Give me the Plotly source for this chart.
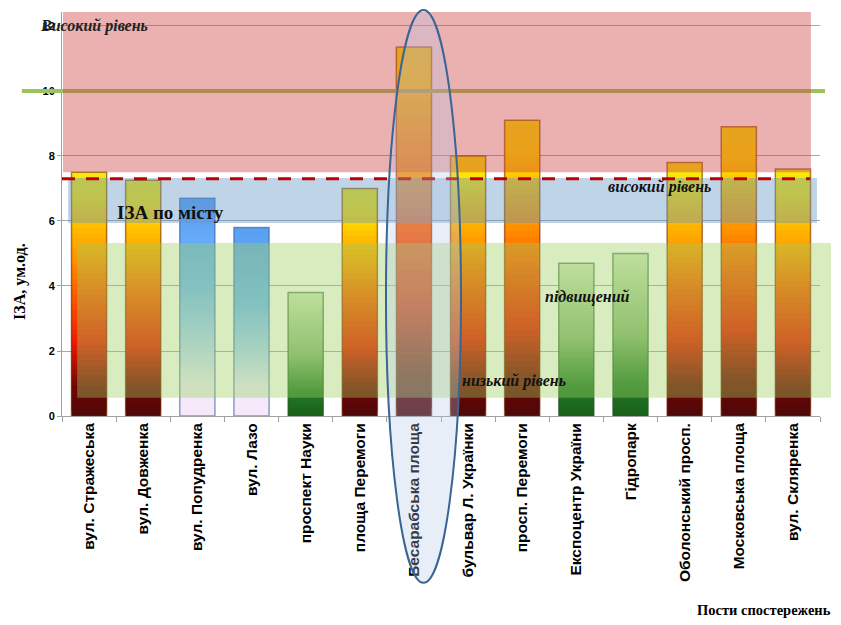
import plotly.graph_objects as go

# ---- data ----
categories = ["вул. Стражеська", "вул. Довженка", "вул. Попудренка", "вул. Лазо",
              "проспект Науки", "площа Перемоги", "Бесарабська площа",
              "бульвар Л. Українки", "просп. Перемоги", "Експоцентр України",
              "Гідропарк", "Оболонський просп.", "Московська площа", "вул. Скляренка"]
values = [7.5, 7.25, 6.7, 5.8, 3.8, 7.0, 11.35, 8.0, 9.1, 4.7, 5.0, 7.8, 8.9, 7.6]
bar_style = ["fire", "fire", "blue", "blue", "green", "fire", "fire",
             "fire", "fire", "green", "green", "fire", "fire", "fire"]
y_ticks = [0, 2, 4, 6, 8, 10, 12]
city_level = 7.3        # ІЗА по місту
high_level = 10         # високий рівень
band_high = (7.5, 12.43)
band_city = (5.94, 7.32)
band_mid = (0.56, 5.32)

# ---- gradients (fraction of bar height -> colour) ----
GRAD = {
    "fire": [(0.0, (0x4d, 0x08, 0x08)), (0.12, (0x70, 0x04, 0x04)), (0.3, (0xf0, 0x18, 0x00)),
             (0.53, (0xff, 0x66, 0x00)), (0.67, (0xff, 0x9b, 0x00)), (0.76, (0xff, 0xb8, 0x00)),
             (0.9, (0xff, 0xe4, 0x00)), (1.0, (0xf4, 0xe8, 0x10))],
    "blue": [(0.0, (0xf8, 0xe8, 0xf8)), (0.15, (0xf0, 0xec, 0xff)), (0.35, (0xb0, 0xd4, 0xff)),
             (0.6, (0x70, 0xb8, 0xff)), (1.0, (0x5a, 0x9e, 0xf0))],
    "green": [(0.0, (0x1a, 0x60, 0x1a)), (0.2, (0x22, 0x7a, 0x28)), (0.5, (0x88, 0xb8, 0x78)),
              (1.0, (0xd4, 0xea, 0xc4))],
}
EDGE = {"fire": "rgba(110,40,0,0.55)", "blue": "rgba(60,100,160,0.6)", "green": "rgba(40,90,40,0.6)"}


def grad_color(kind, f):
    stops = GRAD[kind]
    for (f0, c0), (f1, c1) in zip(stops[:-1], stops[1:]):
        if f0 <= f <= f1:
            t = (f - f0) / (f1 - f0) if f1 > f0 else 0
            c = [round(a + (b - a) * t) for a, b in zip(c0, c1)]
            return "rgb(%d,%d,%d)" % tuple(c)
    return "rgb(%d,%d,%d)" % stops[-1][1]


N = 48
BW = 0.65
fig = go.Figure()
for i in range(N):
    f = (i + 0.5) / N
    bases = [v * i / N for v in values]
    tops = [min(v * (i + 2.0) / N, v) for v in values]
    fig.add_trace(go.Bar(
        x=categories,
        y=[t - b for t, b in zip(tops, bases)],
        base=bases,
        marker=dict(color=[grad_color(s, f) for s in bar_style], line=dict(width=0)),
        width=BW, hoverinfo="skip", showlegend=False))
# outline
fig.add_trace(go.Bar(
    x=categories, y=values, width=BW,
    marker=dict(color="rgba(0,0,0,0)", line=dict(color=[EDGE[s] for s in bar_style], width=1.5)),
    hoverinfo="skip", showlegend=False))

serif = "Liberation Serif"
shapes = [
    # green line at high level (under band)
    dict(type="line", xref="paper", yref="y", x0=-0.053, x1=1.0066, y0=high_level, y1=high_level,
         line=dict(color="#9cc45e", width=4), layer="above"),
    dict(type="rect", xref="paper", yref="y", x0=0.0013, x1=0.988, y0=band_high[0], y1=band_high[1],
         fillcolor="rgba(205,60,60,0.4)", line=dict(width=0), layer="above"),
    dict(type="rect", xref="paper", yref="y", x0=0.008, x1=0.996, y0=band_city[0], y1=band_city[1],
         fillcolor="rgba(98,148,198,0.4)", line=dict(width=0), layer="above"),
    dict(type="rect", xref="paper", yref="y", x0=0.02, x1=1.0145, y0=band_mid[0], y1=band_mid[1],
         fillcolor="rgba(157,207,97,0.4)", line=dict(width=0), layer="above"),
    dict(type="line", xref="paper", yref="y", x0=0.0, x1=0.987, y0=city_level, y1=city_level,
         line=dict(color="#c00000", width=3, dash="13px,11px"), layer="above"),
    dict(type="circle", xref="paper", yref="paper", x0=0.4274, x1=0.5264, y0=-0.413, y1=1.005,
         fillcolor="rgba(178,198,232,0.3)", line=dict(color="#3a6494", width=2), layer="above"),
]

annotations = [
    dict(text="<b><i>Високий рівень</i></b>", x=-0.0317, y=0.9653, xref="paper", yref="paper",
         xanchor="left", yanchor="middle", showarrow=False, font=dict(family=serif, size=16, color="#222")),
    dict(text="<b>ІЗА по місту</b>", x=0.1425, y=0.5025, xref="paper", yref="paper",
         xanchor="center", yanchor="middle", showarrow=False, font=dict(family=serif, size=19, color="#111")),
    dict(text="<b><i>високий рівень</i></b>", x=0.788, y=0.5668, xref="paper", yref="paper",
         xanchor="center", yanchor="middle", showarrow=False, font=dict(family=serif, size=16, color="#111")),
    dict(text="<b><i>підвищений</i></b>", x=0.693, y=0.2946, xref="paper", yref="paper",
         xanchor="center", yanchor="middle", showarrow=False, font=dict(family=serif, size=16, color="#111")),
    dict(text="<b><i>низький рівень</i></b>", x=0.596, y=0.0866, xref="paper", yref="paper",
         xanchor="center", yanchor="middle", showarrow=False, font=dict(family=serif, size=16, color="#111")),
    dict(text="<b>ІЗА, ум.од.</b>", x=-0.0554, y=0.332, xref="paper", yref="paper", textangle=-90,
         xanchor="center", yanchor="middle", showarrow=False, font=dict(family=serif, size=16, color="#000")),
    dict(text="<b>Пости спостережень</b>", x=1.017, y=-0.480, xref="paper", yref="paper",
         xanchor="right", yanchor="middle", showarrow=False, font=dict(family=serif, size=14.5, color="#000")),
]

# page has an 8px body margin; shrink figure so the plot area lands where the reference has it
fig.update_layout(
    width=833, height=617,
    margin=dict(l=54, r=21, t=4, b=209),
    barmode="overlay",
    plot_bgcolor="white", paper_bgcolor="white",
    showlegend=False,
    shapes=shapes, annotations=annotations,
    xaxis=dict(type="category", tickangle=-90, showgrid=False, showline=True, linecolor="#a0a0a0",
               ticks="outside", ticklen=5, tickcolor="#a0a0a0", tickson="boundaries",
               tickfont=dict(family="Liberation Sans", size=15.5, color="#000", weight="bold")),
    yaxis=dict(range=[0, 12.43], tickvals=y_ticks, showgrid=True, gridcolor="#a8a8a8", gridwidth=1,
               showline=True, linecolor="#a0a0a0", ticks="outside", ticklen=4, tickcolor="#a0a0a0",
               zeroline=False,
               tickfont=dict(family="Liberation Sans", size=11, color="#000", weight="bold")),
)

fig.write_html("out.html")
